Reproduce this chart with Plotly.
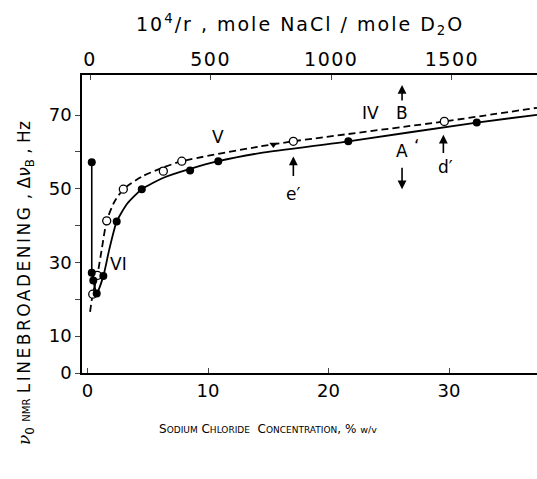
import plotly.graph_objects as go

# ---- data ----
# filled circles (solid curve)
conc_filled = [0.35, 0.35, 0.48, 0.76, 1.31, 2.42, 4.50, 8.51, 10.85, 21.64, 32.30]
lb_filled = [57.2, 27.2, 25.1, 21.6, 26.3, 41.1, 49.9, 55.0, 57.5, 62.9, 68.0]
# open circles (dashed curve)
conc_open = [0.43, 0.81, 1.59, 2.97, 6.29, 7.82, 17.08, 29.61]
lb_open = [21.4, 26.5, 41.3, 49.9, 54.8, 57.5, 62.9, 68.3]
# hand-drawn fitted curves
solid_x = [0.35, 0.50, 0.76, 1.31, 1.80, 2.42, 3.30, 4.50, 6.30, 8.51, 10.85, 14.3, 21.64, 32.3, 37.3]
solid_y = [27.2, 24.8, 21.6, 26.3, 33.5, 41.1, 46.0, 49.9, 53.0, 55.4, 57.5, 59.7, 62.9, 68.0, 70.1]
dashed_x = [0.21, 0.43, 0.81, 1.20, 1.59, 2.20, 2.97, 4.50, 6.29, 7.82, 14.3, 17.08, 29.61, 37.3]
dashed_y = [16.6, 21.4, 26.5, 34.0, 41.3, 46.3, 49.9, 53.3, 55.8, 57.5, 61.5, 62.9, 68.3, 72.0]
# arrow-marker on curve near 15 %
mark_x = [15.42]
mark_y = [62.0]

bottom_ticks = [0, 10, 20, 30]
top_ticks = [0, 500, 1000, 1500]
y_ticks = [0, 10, 20, 30, 40, 50, 60, 70]
y_ticktext = ["0", "10", "", "30", "", "50", "", "70"]

# labels: (text, x, y)
curve_labels = [("V", 10.85, 64.2), ("VI", 2.61, 29.6), ("IV", 23.5, 70.6),
                ("B", 26.1, 70.6), ("A", 26.08, 60.2), ("‘", 27.3, 61.7),
                ("d′", 29.67, 55.8), ("e′", 17.05, 48.5)]
# arrows: (x, tip_y, tail_y)
arrows = [(26.1, 78.2, 73.6), (26.1, 49.9, 56.1), (29.53, 64.7, 59.3), (17.08, 58.8, 53.1)]

W, H = 537, 479
L, R, T, B = 82, 0, 75, 106
FONT = "DejaVu Sans"


def px(xp):
    return (xp - L) / (W - L - R)


def py(yp):
    return (H - B - yp) / (H - T - B)


fig = go.Figure()
# vertical drop at lowest concentration
fig.add_trace(go.Scatter(x=conc_filled[:2], y=lb_filled[:2], mode="lines",
                         line=dict(color="black", width=1.6), hoverinfo="skip"))
fig.add_trace(go.Scatter(x=solid_x, y=solid_y, mode="lines",
                         line=dict(color="black", width=1.8, shape="spline", smoothing=0.6),
                         hoverinfo="skip"))
fig.add_trace(go.Scatter(x=dashed_x, y=dashed_y, mode="lines",
                         line=dict(color="black", width=1.8, dash="7px,4px", shape="spline",
                                   smoothing=0.6), hoverinfo="skip"))
fig.add_trace(go.Scatter(x=conc_open, y=lb_open, mode="markers",
                         marker=dict(symbol="circle", size=8, color="white",
                                     line=dict(color="black", width=1.3))))
fig.add_trace(go.Scatter(x=conc_filled, y=lb_filled, mode="markers",
                         marker=dict(symbol="circle", size=8, color="black")))
fig.add_trace(go.Scatter(x=mark_x, y=mark_y, mode="markers",
                         marker=dict(symbol="triangle-down", size=7, color="black")))
# invisible trace to carry the top axis
fig.add_trace(go.Scatter(x=top_ticks, y=[None] * len(top_ticks), xaxis="x2", mode="markers",
                         marker=dict(opacity=0), hoverinfo="skip"))

annotations = []
for txt, x, y in curve_labels:
    annotations.append(dict(x=x, y=y, xref="x", yref="y", text=txt, showarrow=False,
                            xanchor="center", yanchor="middle",
                            font=dict(family=FONT, size=17, color="black")))
for x, tip, tail in arrows:
    annotations.append(dict(x=x, y=tip, ax=x, ay=tail, xref="x", yref="y", axref="x", ayref="y",
                            text="", showarrow=True, arrowhead=2, arrowsize=1.1, arrowwidth=1.6,
                            arrowcolor="black", standoff=0, startstandoff=0))

annotations.append(dict(
    x=px(300), y=py(24), xref="paper", yref="paper", showarrow=False,
    xanchor="center", yanchor="middle",
    text="<span style='letter-spacing:2px'>10<sup>4</sup>/r , mole NaCl / mole D<sub>2</sub>O</span>",
    font=dict(family=FONT, size=19, color="black")))
annotations.append(dict(
    x=px(25), y=py(283), xref="paper", yref="paper", showarrow=False, textangle=-90,
    xanchor="center", yanchor="middle",
    text=("<span style='font-family:DejaVu Serif'><i>ν</i></span><sub>0</sub> "
          "<span style='font-size:10px'>NMR</span> "
          "<span style='letter-spacing:2.5px'>LINEBROADENING</span> , Δ<i>ν</i><sub>B</sub> , Hz"),
    font=dict(family=FONT, size=17, color="black")))
annotations.append(dict(
    x=px(268), y=py(429), xref="paper", yref="paper", showarrow=False,
    xanchor="center", yanchor="middle",
    text=("S<span style='font-size:9px'>ODIUM</span> C<span style='font-size:9px'>HLORIDE</span>"
          "  C<span style='font-size:9px'>ONCENTRATION</span>, % <span style='font-size:9.5px'>w/v</span>"),
    font=dict(family=FONT, size=12, color="black")))

fig.update_layout(
    width=W, height=H,
    margin=dict(l=L, r=R, t=T, b=B),
    paper_bgcolor="white", plot_bgcolor="white",
    showlegend=False,
    font=dict(family=FONT, size=18, color="black"),
    xaxis=dict(range=[-0.46, 37.3], tickvals=bottom_ticks, ticks="inside", ticklen=5,
               tickwidth=1.3, showline=True, linecolor="black", linewidth=1.8,
               showgrid=False, zeroline=False, tickfont=dict(family=FONT, size=18)),
    xaxis2=dict(range=[-33.2, 1852.7], overlaying="x", side="top", anchor="y",
                tickvals=top_ticks,
                ticktext=["<span style='letter-spacing:1.5px'>%d</span>" % t for t in top_ticks],
                ticks="inside", ticklen=5, tickwidth=1.3,
                showline=True, linecolor="black", linewidth=1.5, showgrid=False,
                zeroline=False, tickfont=dict(family=FONT, size=19)),
    yaxis=dict(range=[0, 80.9], tickvals=y_ticks, ticktext=y_ticktext, ticks="outside",
               ticklen=5, tickwidth=1.3, showline=True, linecolor="black", linewidth=1.6,
               showgrid=False, zeroline=False, tickfont=dict(family=FONT, size=18)),
    annotations=annotations,
)

fig.write_html("out.html", config={"displayModeBar": False},
               post_script="document.body.style.margin='0';")
